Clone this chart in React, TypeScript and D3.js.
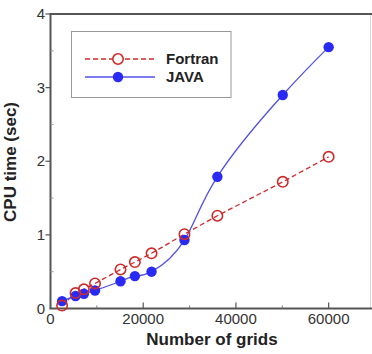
import React from "react";
import * as d3 from "d3";

const grids = [2500, 5400, 7200, 9600, 15100, 18200, 21800, 28900, 36000, 50100, 60000];
const fortran = [0.04, 0.21, 0.26, 0.34, 0.53, 0.63, 0.75, 1.01, 1.26, 1.72, 2.06];
const java = [0.1, 0.17, 0.2, 0.245, 0.37, 0.44, 0.5, 0.93, 1.79, 2.9, 3.55];
const xTicks = [0, 20000, 40000, 60000];
const xMinor = [10000, 30000, 50000];
const yTicks = [0, 1, 2, 3, 4];
const yMinor = [0.5, 1.5, 2.5, 3.5];
const seriesNames = ["Fortran", "JAVA"];

const W = 372;
const H = 354;
const FONT = "'Liberation Sans', Arial, sans-serif";
const RED = "#cf2a2a";
const BLUE = "#2a2af5";
const BLUE_LINE = "#5050e6";

export default function App() {
  const x = d3.scaleLinear().domain([0, 70000]).range([50.5, 375]);
  const y = d3.scaleLinear().domain([0, 4]).range([308.5, 14]);
  const left = 50.5, right = 370.5, top = 14, bottom = 308.5;

  const fPts: [number, number][] = grids.map((g, i) => [x(g), y(fortran[i])]);
  const jPts: [number, number][] = grids.map((g, i) => [x(g), y(java[i])]);
  const lineF = d3.line().curve(d3.curveLinear)(fPts) || "";
  const lineJ = d3.line().curve(d3.curveNatural)(jPts) || "";

  return (
    <svg width={W} height={H} style={{ position: "absolute", left: 0, top: 0, background: "#fff" }}>
      <rect x={0} y={0} width={W} height={H} fill="#fff" />
      {/* frame */}
      <line x1={right} y1={top} x2={right} y2={bottom} stroke="#d8d8d8" strokeWidth={1} />
      <line x1={left} y1={top} x2={right + 2} y2={top} stroke="#555" strokeWidth={2} />
      <line x1={left} y1={top - 1} x2={left} y2={bottom} stroke="#555" strokeWidth={2} />
      <line x1={left - 1} y1={bottom} x2={right + 2} y2={bottom} stroke="#555" strokeWidth={2} />

      {/* x ticks */}
      {xTicks.map((t) => (
        <g key={"xt" + t}>
          {t > 0 && <line x1={x(t)} x2={x(t)} y1={bottom} y2={bottom - 6} stroke="#555" strokeWidth={1.2} />}
          <text x={x(t)} y={324} textAnchor="middle" fontFamily={FONT} fontSize={15} fill="#333">{t}</text>
        </g>
      ))}
      {xMinor.map((t) => (
        <line key={"xm" + t} x1={x(t)} x2={x(t)} y1={bottom} y2={bottom - 3} stroke="#777" strokeWidth={1} />
      ))}
      {/* y ticks */}
      {yTicks.map((t) => (
        <g key={"yt" + t}>
          {t > 0 && <line x1={left - 5} x2={left} y1={y(t)} y2={y(t)} stroke="#555" strokeWidth={1.2} />}
          <text x={45} y={y(t) + 5} textAnchor="end" fontFamily={FONT} fontSize={15} fill="#333">{t}</text>
        </g>
      ))}
      {yMinor.map((t) => (
        <line key={"ym" + t} x1={left} x2={left + 3} y1={y(t)} y2={y(t)} stroke="#999" strokeWidth={1} />
      ))}

      {/* titles */}
      <text x={212} y={345} textAnchor="middle" fontFamily={FONT} fontWeight="bold" fontSize={17} fill="#222">Number of grids</text>
      <text transform="translate(15.5,162) rotate(-90)" textAnchor="middle" fontFamily={FONT} fontWeight="bold" fontSize={17} fill="#222">CPU time (sec)</text>

      {/* series */}
      <path d={lineF} fill="none" stroke={RED} strokeWidth={1.3} strokeDasharray="5,3" />
      <path d={lineJ} fill="none" stroke={BLUE_LINE} strokeWidth={1.3} />
      {jPts.map((p, i) => (
        <circle key={"j" + i} cx={p[0]} cy={p[1]} r={5.2} fill={BLUE} />
      ))}
      {fPts.map((p, i) => (
        <circle key={"f" + i} cx={p[0]} cy={p[1]} r={5.2} fill="none" stroke={RED} strokeWidth={1.6} />
      ))}

      {/* legend */}
      <rect x={71.5} y={31.5} width={159.5} height={66} fill="#fff" stroke="#999" strokeWidth={1} />
      <line x1={85} x2={155} y1={59} y2={59} stroke={RED} strokeWidth={1.3} strokeDasharray="5,3" />
      <circle cx={118} cy={59} r={5.2} fill="#fff" stroke={RED} strokeWidth={1.6} />
      <text x={166} y={64} fontFamily={FONT} fontWeight="bold" fontSize={15} fill="#222">{seriesNames[0]}</text>
      <line x1={85} x2={155} y1={77} y2={77} stroke={BLUE_LINE} strokeWidth={1.3} />
      <circle cx={118} cy={77} r={5.2} fill={BLUE} />
      <text x={166} y={82} fontFamily={FONT} fontWeight="bold" fontSize={15} fill="#222">{seriesNames[1]}</text>
    </svg>
  );
}
